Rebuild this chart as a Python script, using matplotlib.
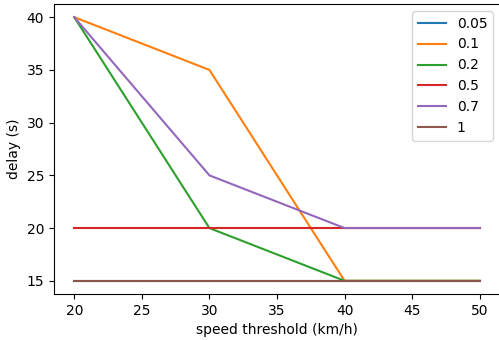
import matplotlib
matplotlib.use("Agg")
import matplotlib.pyplot as plt

speeds = [20, 30, 40, 50]
labels = ["0.05", "0.1", "0.2", "0.5", "0.7", "1"]
d_005 = [15, 15, 15, 15]
d_01 = [40, 35, 15, 15]
d_02 = [40, 20, 15, 15]
d_05 = [20, 20, 20, 20]
d_07 = [40, 25, 20, 20]
d_1 = [15, 15, 15, 15]

W, H = 499, 340
fig = plt.figure(figsize=(W / 100, H / 100), dpi=100)
ax = fig.add_axes([54 / W, 46 / H, 446 / W, 290 / H])
for lab, ys in zip(labels, [d_005, d_01, d_02, d_05, d_07, d_1]):
    ax.plot(speeds, ys, label=lab)
ax.set_xlabel("speed threshold (km/h)")
ax.set_ylabel("delay (s)")
ax.legend(loc="upper right")
fig.savefig("out.png", dpi=100)
